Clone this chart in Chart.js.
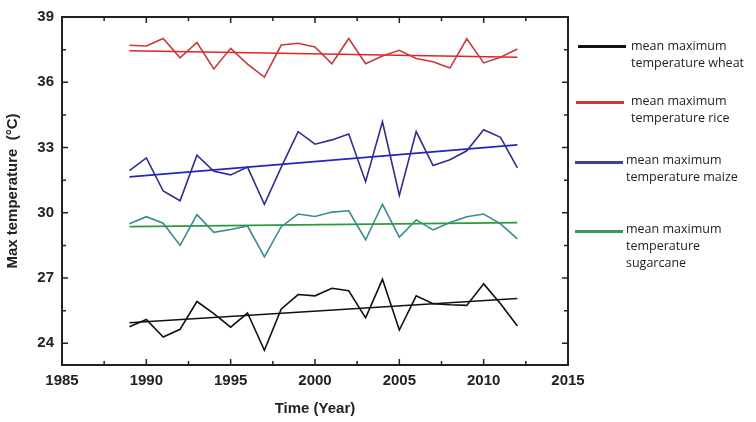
<!DOCTYPE html>
<html>
<head>
<meta charset="utf-8">
<script src="https://cdn.jsdelivr.net/npm/chart.js@4.4.1/dist/chart.umd.min.js"></script>
<style>
  body { margin: 0; background: #fff; }
  #wrap { position: relative; width: 756px; height: 422px; }
  .leg { position: absolute; font-family: "Open Sans", sans-serif; font-size: 12.5px; color: #222; line-height: 17px; }
  .sw { position: absolute; height: 3px; width: 48px; }
</style>
</head>
<body>
<div id="wrap">
  <canvas id="chart" width="756" height="422"></canvas>
  <div class="sw" style="left:578px;top:45px;background:#111"></div>
  <div class="leg" style="left:631px;top:37px">mean maximum<br>temperature wheat</div>
  <div class="sw" style="left:576px;top:101px;background:#c8383c"></div>
  <div class="leg" style="left:631px;top:92px">mean maximum<br>temperature rice</div>
  <div class="sw" style="left:575px;top:161px;background:#3a3fa0"></div>
  <div class="leg" style="left:626px;top:151px">mean maximum<br>temperature maize</div>
  <div class="sw" style="left:575px;top:230px;background:#3a9a5a"></div>
  <div class="leg" style="left:626px;top:220px">mean maximum<br>temperature<br>sugarcane</div>
</div>
<script>
const years = [1989, 1990, 1991, 1992, 1993, 1994, 1995, 1996, 1997, 1998, 1999, 2000,
  2001, 2002, 2003, 2004, 2005, 2006, 2007, 2008, 2009, 2010, 2011, 2012];

const rice = [37.70, 37.67, 38.01, 37.12, 37.83, 36.61, 37.56, 36.83, 36.24, 37.71, 37.79, 37.62,
  36.85, 38.01, 36.85, 37.21, 37.47, 37.09, 36.94, 36.65, 38.00, 36.89, 37.15, 37.53];
const maize = [31.94, 32.52, 31.00, 30.55, 32.65, 31.91, 31.74, 32.10, 30.39, 32.10, 33.73, 33.15,
  33.35, 33.62, 31.43, 34.18, 30.80, 33.73, 32.17, 32.44, 32.85, 33.82, 33.47, 32.06];
const sugarcane = [29.49, 29.82, 29.52, 28.50, 29.91, 29.10, 29.23, 29.39, 27.97, 29.36, 29.94, 29.83,
  30.03, 30.09, 28.76, 30.39, 28.88, 29.67, 29.21, 29.55, 29.82, 29.94, 29.49, 28.80];
const wheat = [24.76, 25.09, 24.29, 24.64, 25.92, 25.36, 24.74, 25.39, 23.68, 25.58, 26.24, 26.18,
  26.53, 26.41, 25.17, 26.94, 24.61, 26.18, 25.82, 25.77, 25.74, 26.73, 25.82, 24.79];

// trend lines, read at first and last year
const trendYears = [1989, 2012];
const riceTrend = [37.45, 37.15];
const maizeTrend = [31.65, 33.12];
const sugarcaneTrend = [29.36, 29.55];
const wheatTrend = [24.94, 26.06];

const xTicks = [1985, 1990, 1995, 2000, 2005, 2010, 2015];
const yTicks = [24, 27, 30, 33, 36, 39];

function pts(xs, ys) { return xs.map((x, i) => ({ x: x, y: ys[i] })); }

function line(data, color, width) {
  return { data: data, borderColor: color, borderWidth: width, pointRadius: 0, fill: false, tension: 0 };
}

// frame on all four sides with inward ticks
const frame = {
  id: 'frame',
  afterDraw(chart) {
    const c = chart.ctx, a = chart.chartArea;
    const xs = chart.scales.x, ys = chart.scales.y;
    c.save();
    c.strokeStyle = '#222';
    c.lineWidth = 2;
    c.strokeRect(a.left, a.top, a.right - a.left, a.bottom - a.top);
    c.lineWidth = 1.5;
    c.beginPath();
    for (let v = 1985; v <= 2015; v += 2.5) {
      const px = xs.getPixelForValue(v);
      const len = v % 5 === 0 ? 6 : 4;
      c.moveTo(px, a.bottom); c.lineTo(px, a.bottom - len);
      c.moveTo(px, a.top); c.lineTo(px, a.top + len);
    }
    for (let v = 24; v <= 39; v += 1.5) {
      const py = ys.getPixelForValue(v);
      const len = (v - 24) % 3 === 0 ? 6 : 4;
      c.moveTo(a.left, py); c.lineTo(a.left + len, py);
      c.moveTo(a.right, py); c.lineTo(a.right - len, py);
    }
    c.stroke();
    c.restore();
  }
};

const tickFont = { family: 'Liberation Sans, Arial, sans-serif', size: 15, weight: 'bold' };

new Chart(document.getElementById('chart').getContext('2d'), {
  type: 'line',
  data: {
    datasets: [
      line(pts(years, rice), '#c8383c', 1.6),
      line(pts(trendYears, riceTrend), '#e02424', 1.6),
      line(pts(years, maize), '#2e2e8c', 1.6),
      line(pts(trendYears, maizeTrend), '#2424c0', 1.6),
      line(pts(years, sugarcane), '#3a8c8c', 1.6),
      line(pts(trendYears, sugarcaneTrend), '#2e9a3a', 1.8),
      line(pts(years, wheat), '#111111', 1.6),
      line(pts(trendYears, wheatTrend), '#111111', 1.6)
    ]
  },
  options: {
    responsive: false,
    animation: false,
    layout: { padding: { top: 14, right: 188, left: 0, bottom: 0 } },
    plugins: { legend: { display: false }, tooltip: { enabled: false } },
    scales: {
      x: {
        type: 'linear',
        min: 1985,
        max: 2015,
        afterBuildTicks: s => { s.ticks = xTicks.map(v => ({ value: v })); },
        afterFit: s => { s.height = 57; },
        grid: { display: false, drawTicks: false },
        border: { display: false },
        ticks: { color: '#222', font: tickFont, padding: 7, maxRotation: 0, callback: v => String(v) },
        title: { display: true, text: 'Time (Year)', color: '#222', font: tickFont, padding: { top: 4, bottom: 4 } }
      },
      y: {
        min: 23,
        max: 39,
        afterBuildTicks: s => { s.ticks = yTicks.map(v => ({ value: v })); },
        afterFit: s => { s.width = 62; },
        grid: { display: false, drawTicks: false },
        border: { display: false },
        ticks: { color: '#222', font: tickFont, padding: 8, callback: v => String(v) },
        title: { display: true, text: 'Max temperature  (°C)', color: '#222', font: tickFont, padding: { top: 4, bottom: 4 } }
      }
    }
  },
  plugins: [frame]
});
</script>
</body>
</html>
